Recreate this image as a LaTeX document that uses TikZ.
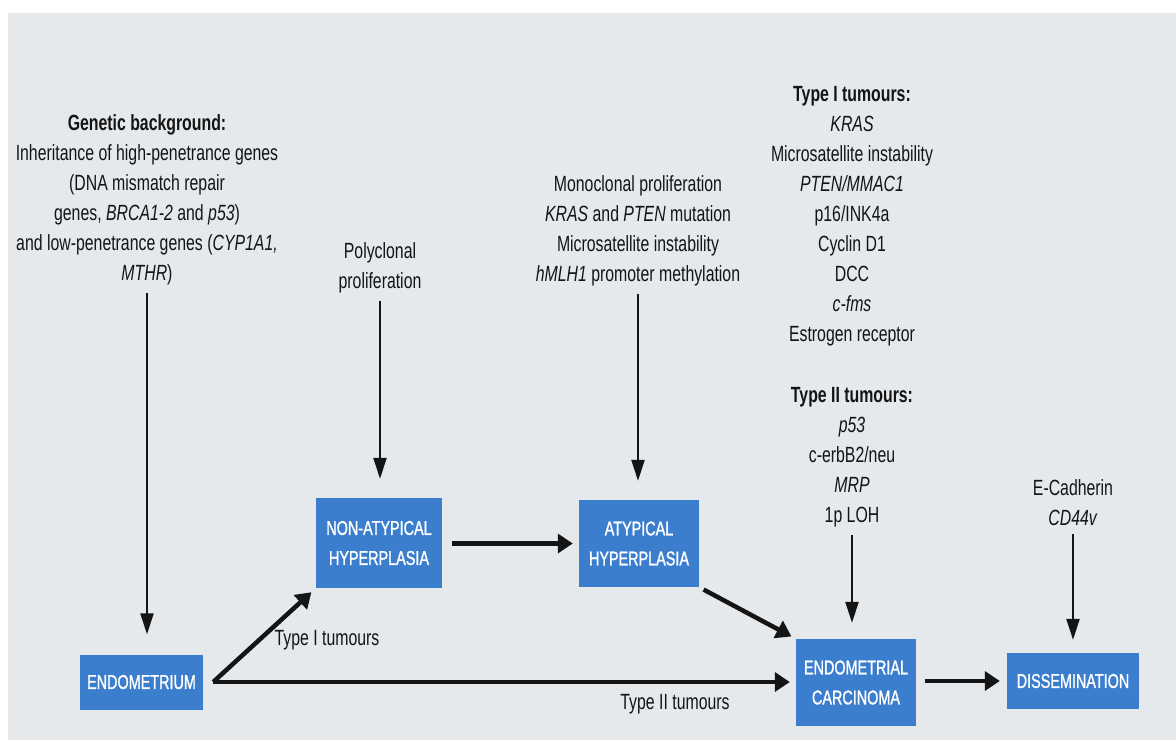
\documentclass[tikz,border=0pt]{standalone}
\usepackage{fontspec}
\setmainfont{Liberation Sans}[FakeStretch=0.72]
\newfontfamily\stagefont{Liberation Sans}[FakeStretch=0.72, FakeBold=1.2]
\usetikzlibrary{arrows.meta,positioning}
\definecolor{boxblue}{RGB}{60,126,206}
\definecolor{paper}{RGB}{229,233,236}
\definecolor{ink}{RGB}{20,20,20}
\tikzset{
    stage/.style={fill=boxblue, text=white, align=center, inner sep=0pt,
        font=\stagefont\fontsize{20}{30}\selectfont},
    factors/.style={text=ink, align=center, inner sep=2pt,
        font=\fontsize{22}{30}\selectfont},
    thinarrow/.style={draw=ink, line width=2.5pt, -{Triangle[length=21pt,width=13pt]}},
    thickarrow/.style={draw=ink, line width=4.5pt, -{Triangle[length=15pt,width=19pt]}}
}
\begin{document}
\begin{tikzpicture}[x=1pt, y=-1pt]
    % sheet of paper
    \fill[white] (0,0) rectangle (1176,740);
    \fill[paper] (8,13) rectangle (1176,740);

    % stages of the disease
    \node[stage, minimum width=123pt, minimum height=55pt] (endo) at (141.5,682) {ENDOMETRIUM};
    \node[stage, minimum width=126pt, minimum height=90pt] (nonatyp) at (379,543) {NON-ATYPICAL\\HYPERPLASIA};
    \node[stage, minimum width=120pt, minimum height=87pt] (atyp) at (639,543.5) {ATYPICAL\\HYPERPLASIA};
    \node[stage, minimum width=120pt, minimum height=87pt] (carc) at (856,682.5) {ENDOMETRIAL\\CARCINOMA};
    \node[stage, minimum width=132pt, minimum height=56pt] (dissem) at (1073,681) {DISSEMINATION};

    % molecular factors
    \node[factors] (gen) at (147,200) {\textbf{Genetic background:}\\
        Inheritance of high-penetrance genes\\
        (DNA mismatch repair\\
        genes, \textit{BRCA1-2} and \textit{p53})\\
        and low-penetrance genes (\textit{CYP1A1,}\\
        \textit{MTHR})};
    \node[factors] (poly) at (380,268) {Polyclonal\\proliferation};
    \node[factors] (mono) at (638,231) {Monoclonal proliferation\\
        \textit{KRAS} and \textit{PTEN} mutation\\
        Microsatellite instability\\
        \textit{hMLH1} promoter methylation};
    \node[factors] (typeone) at (852,216) {\textbf{Type I tumours:}\\
        \textit{KRAS}\\
        Microsatellite instability\\
        \textit{PTEN/MMAC1}\\
        p16/INK4a\\
        Cyclin D1\\
        DCC\\
        \textit{c-fms}\\
        Estrogen receptor};
    \node[factors] (typetwo) at (852,457) {\textbf{Type II tumours:}\\
        \textit{p53}\\
        c-erbB2/neu\\
        \textit{MRP}\\
        1p LOH};
    \node[factors] (ecad) at (1073,503) {E-Cadherin\\\textit{CD44v}};

    % factors feeding each stage
    \foreach \src/\dst/\gap in {gen/endo/20, poly/nonatyp/19, mono/atyp/19, typetwo/carc/16, ecad/dissem/13}
    {
        \draw[thinarrow, shorten <=6pt, shorten >=\gap pt] (\src.south) -- (\src.south |- \dst.north);
    };

    % progression
    \coordinate[right=10pt of endo.east] (fork);
    \draw[thickarrow, shorten >=6pt] (fork) -- (nonatyp.south west);
    \draw[thickarrow, shorten >=6pt] (fork) -- (carc.west |- fork);
    \draw[thickarrow, shorten <=10pt, shorten >=6pt] (nonatyp.east |- atyp.west) -- (atyp.west);
    \draw[thickarrow, shorten <=5pt, shorten >=5pt] (atyp.south east) -- (carc.north west);
    \draw[thickarrow, shorten <=9pt, shorten >=7pt] (carc.east |- dissem.west) -- (dissem.west);

    \node[factors] (lblone) at (327,640) {Type I tumours};
    \node[factors] (lbltwo) at (675,704) {Type II tumours};
\end{tikzpicture}
\end{document}
